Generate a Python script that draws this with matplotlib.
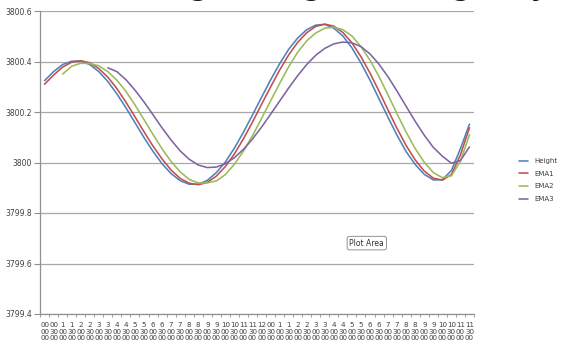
import numpy as np
import matplotlib
matplotlib.use("Agg")
import matplotlib.pyplot as plt
from matplotlib.ticker import FixedLocator

nan = np.nan
# half-hourly readings, 00:00 .. 23:30
hours = ["00", "00", "1", "1", "2", "2", "3", "3", "4", "4", "5", "5", "6", "6",
         "7", "7", "8", "8", "9", "9", "10", "10", "11", "11", "12", "00",
         "1", "1", "2", "2", "3", "3", "4", "4", "5", "5", "6", "6", "7", "7",
         "8", "8", "9", "9", "10", "10", "11", "11"]
minutes = ["00", "30"] * 24
seconds = ["00"] * 48

height = [3800.324, 3800.360, 3800.388, 3800.401, 3800.402, 3800.388, 3800.360, 3800.321,
          3800.272, 3800.217, 3800.158, 3800.099, 3800.044, 3799.995, 3799.956, 3799.928,
          3799.914, 3799.914, 3799.929, 3799.960, 3800.002, 3800.057, 3800.120, 3800.188,
          3800.258, 3800.327, 3800.391, 3800.448, 3800.493, 3800.526, 3800.544, 3800.547,
          3800.532, 3800.501, 3800.454, 3800.394, 3800.326, 3800.252, 3800.178, 3800.107,
          3800.043, 3799.992, 3799.953, 3799.931, 3799.932, 3799.968, 3800.055, 3800.152]
ema1 = [3800.310, 3800.346, 3800.378, 3800.397, 3800.403, 3800.395, 3800.372, 3800.338,
        3800.293, 3800.239, 3800.181, 3800.122, 3800.065, 3800.014, 3799.970, 3799.937,
        3799.918, 3799.912, 3799.921, 3799.946, 3799.984, 3800.034, 3800.094, 3800.160,
        3800.230, 3800.299, 3800.366, 3800.426, 3800.476, 3800.514, 3800.539, 3800.548,
        3800.540, 3800.515, 3800.474, 3800.419, 3800.354, 3800.282, 3800.207, 3800.134,
        3800.067, 3800.010, 3799.966, 3799.938, 3799.930, 3799.952, 3800.030, 3800.138]
ema2 = [nan, nan, 3800.350, 3800.381, 3800.393, 3800.392, 3800.383, 3800.360,
        3800.326, 3800.282, 3800.228, 3800.170, 3800.111, 3800.054, 3800.004, 3799.963,
        3799.933, 3799.919, 3799.919, 3799.927, 3799.952, 3799.993, 3800.045, 3800.106,
        3800.174, 3800.244, 3800.313, 3800.379, 3800.437, 3800.482, 3800.513, 3800.532,
        3800.536, 3800.526, 3800.501, 3800.459, 3800.405, 3800.340, 3800.267, 3800.192,
        3800.120, 3800.055, 3800.001, 3799.960, 3799.940, 3799.947, 3800.005, 3800.110]
ema3 = [nan, nan, nan, nan, nan, nan, nan, 3800.375,
        3800.360, 3800.328, 3800.287, 3800.240, 3800.189, 3800.137, 3800.089, 3800.046,
        3800.013, 3799.990, 3799.980, 3799.982, 3799.995, 3800.019, 3800.052, 3800.093,
        3800.140, 3800.191, 3800.243, 3800.295, 3800.344, 3800.388, 3800.425, 3800.452,
        3800.470, 3800.477, 3800.474, 3800.459, 3800.430, 3800.389, 3800.339, 3800.282,
        3800.222, 3800.163, 3800.108, 3800.060, 3800.025, 3799.997, 3800.008, 3800.062]

series = [("Height", height, "#4F81BD"), ("EMA1", ema1, "#C0504D"),
          ("EMA2", ema2, "#9BBB59"), ("EMA3", ema3, "#8064A2")]

fig = plt.figure(figsize=(5.61, 3.47), dpi=100)
ax = fig.add_axes([40 / 561, 1 - 314 / 347, 434 / 561, 303 / 347])

# each half-hour spans three 10-minute category slots
x = np.arange(len(height)) * 3 + 1.5
for name, vals, col in series:
    ax.plot(x, vals, color=col, lw=1.15, label=name, solid_capstyle="round")

ax.set_xlim(0, 144)
ax.set_ylim(3799.4, 3800.6)
yt = np.arange(3799.4, 3800.61, 0.2)
ax.set_yticks(yt)
ax.set_yticklabels(["%g" % round(v, 1) for v in yt], fontsize=5.5, color="#404040")
ax.grid(axis="y", color="#A8A8A8", lw=0.9)
ax.set_axisbelow(True)

ax.xaxis.set_major_locator(FixedLocator(x))
ax.set_xticklabels([f"{h}\n{m}\n{s}" for h, m, s in zip(hours, minutes, seconds)],
                   fontsize=5.1, color="#404040", linespacing=1.05)
ax.xaxis.set_minor_locator(FixedLocator(np.arange(0, 145, 3)))
ax.tick_params(axis="x", which="major", length=0, pad=6)
ax.tick_params(axis="x", which="minor", length=2.5, color="#909090", width=0.6)
ax.tick_params(axis="y", length=4, color="#909090", width=0.8, pad=2)
for s in ["top", "right"]:
    ax.spines[s].set_visible(False)
for s in ["left", "bottom"]:
    ax.spines[s].set_color("#909090")
    ax.spines[s].set_linewidth(0.9)

leg = ax.legend(loc="center left", bbox_to_anchor=(1.097, 0.442), frameon=False,
                fontsize=5, handlelength=1.3, labelspacing=0.95, handletextpad=0.9,
                borderaxespad=0.0)
for t in leg.get_texts():
    t.set_color("#404040")

ax.text(0.753, 0.234, "Plot Area", transform=ax.transAxes, fontsize=5.5, color="#303030",
        ha="center", va="center",
        bbox=dict(boxstyle="round,pad=0.3", fc="white", ec="#808080", lw=0.6))

# chart title, cropped at the top edge in the original screenshot
fig.text(0.47, 1.013, "Exponential Moving Averages of Height by Day", fontsize=19,
         fontweight="bold", ha="center", va="baseline", color="#111111")

fig.savefig("out.png", dpi=100)
